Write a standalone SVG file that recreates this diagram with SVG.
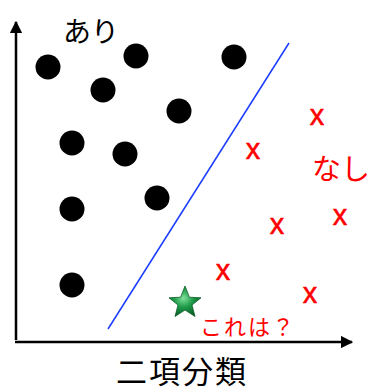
<svg xmlns="http://www.w3.org/2000/svg" width="369" height="392" viewBox="0 0 369 392">
<style>
.dot{fill:#000}
.x{fill:#ff0000;stroke:#ff0000;stroke-width:0.5;font-family:"Liberation Sans","Noto Sans CJK JP",sans-serif;font-size:29px;text-anchor:middle}
.jp{font-family:"Noto Sans CJK JP",sans-serif}
.axis{stroke:#000;stroke-width:2.5;fill:none}
</style>
<defs>
<marker id="ah" viewBox="0 0 10 10" refX="9" refY="5" markerWidth="5" markerHeight="5" orient="auto" markerUnits="strokeWidth">
<path d="M0,0 L10,5 L0,10 z" fill="#000"/>
</marker>
<radialGradient id="sg" cx="0.45" cy="0.4" r="0.6">
<stop offset="0" stop-color="#7fe09a"/>
<stop offset="0.5" stop-color="#1e9a48"/>
<stop offset="1" stop-color="#0b5e28"/>
</radialGradient>
</defs>
<rect width="369" height="392" fill="#fff"/>
<g id="axes">
<line class="axis" x1="16" y1="340" x2="16" y2="22" marker-end="url(#ah)"/>
<line class="axis" x1="15" y1="342" x2="352" y2="342" marker-end="url(#ah)"/>
</g>
<g id="boundary">
<line x1="108" y1="329" x2="289" y2="43" stroke="#1a3cff" stroke-width="1.5"/>
</g>
<g id="class-yes">
<circle class="dot" cx="48" cy="67" r="12.5"/>
<circle class="dot" cx="136" cy="56" r="12.5"/>
<circle class="dot" cx="234" cy="57" r="12.5"/>
<circle class="dot" cx="103" cy="90" r="12.5"/>
<circle class="dot" cx="179" cy="111" r="12.5"/>
<circle class="dot" cx="72" cy="143" r="12.5"/>
<circle class="dot" cx="125" cy="154" r="12.5"/>
<circle class="dot" cx="157" cy="198" r="12.5"/>
<circle class="dot" cx="72" cy="209" r="12.5"/>
<circle class="dot" cx="72" cy="285" r="12.5"/>
</g>
<g id="class-no">
<text class="x" x="317" y="125">x</text>
<text class="x" x="253" y="159">x</text>
<text class="x" x="340" y="225">x</text>
<text class="x" x="277" y="234">x</text>
<text class="x" x="223" y="280">x</text>
<text class="x" x="310" y="303">x</text>
</g>
<g id="query">
<path d="M185,286 L189.4,297.2 L201,297.8 L192,305 L195,316.5 L185,310 L175,316.5 L178,305 L169,297.8 L180.6,297.2 Z" fill="url(#sg)" stroke="#0b5e28" stroke-width="0.8"/>
</g>
<g id="labels">
<text class="jp" x="63" y="42" font-size="28" fill="#000">あり</text>
<text class="jp" x="312" y="180" font-size="29" fill="#ff0000">なし</text>
<text class="jp" x="200" y="335" font-size="22" letter-spacing="2" fill="#ff0000">これは？</text>
<text class="jp" x="116" y="383" font-size="31" letter-spacing="2" fill="#000">二項分類</text>
</g>
</svg>
